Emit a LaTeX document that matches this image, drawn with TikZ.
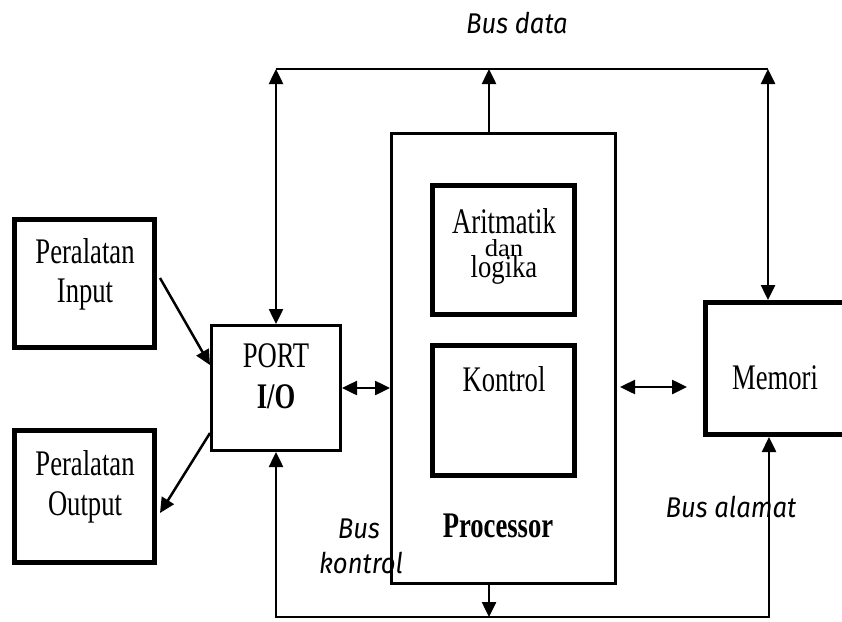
\documentclass[tikz,border=0pt]{standalone}
\usepackage{fontspec}
\usepackage{graphicx}
\setmainfont{Liberation Serif}
\newfontfamily\boxfont[FakeStretch=0.74]{Liberation Serif}
\newfontfamily\busfont[FakeStretch=0.9]{Fira Sans}
\usetikzlibrary{arrows.meta}
\begin{document}
\begin{tikzpicture}[x=1pt,y=-1pt,
  thickbox/.style={draw, line width=5pt, inner sep=0pt},
  thinbox/.style={draw, line width=3pt, inner sep=0pt},
  bus/.style={line width=2.5pt},
  tip/.style={-{Triangle[length=15pt,width=14pt]}},
  dbl/.style={{Triangle[length=15pt,width=14pt]}-{Triangle[length=15pt,width=14pt]}},
  serif/.style={font=\boxfont\fontsize{36}{36}\selectfont, anchor=base, inner sep=0pt},
  serifbold/.style={font=\boxfont\bfseries\fontsize{36}{36}\selectfont, anchor=base, inner sep=0pt},
  sans/.style={font=\busfont\itshape\fontsize{28.5}{28.5}\selectfont, anchor=base, inner sep=0pt}]
\useasboundingbox (0,0) rectangle (842,621);
\clip (0,0) rectangle (842,621);

% blocks
\node[thickbox, minimum width=140pt, minimum height=128pt] (inbox) at (84.5,283.5) {};
\node[thickbox, minimum width=140pt, minimum height=132pt] (outbox) at (84.5,496.5) {};
\node[thinbox, minimum width=129pt, minimum height=125pt] (port) at (276,388) {};
\node[thinbox, minimum width=224pt, minimum height=450pt] (proc) at (503.5,358.5) {};
\node[thickbox, minimum width=142pt, minimum height=129pt] (alu) at (503.5,250) {};
\node[thickbox, minimum width=142pt, minimum height=130pt] (ctrl) at (503.5,410.5) {};
\node[thickbox, minimum width=160pt, minimum height=132pt] (mem) at (785.5,368.5) {};

% block texts
\node[serif] (inA) at (85,263) {Peralatan};
\node[serif] (inB) at (85,302) {Input};
\node[serif] (outA) at (85,475) {Peralatan};
\node[serif] (outB) at (85,515) {Output};
\node[serif] (portA) at (276,367) {PORT};
\node[serifbold] (portB) at (276,408) {I/O};
\node[serif] (aluA) at (504,233) {Aritmatik};
\node[serif] (aluB) at (504,256) {\scalebox{1}[0.68]{dan}};
\node[serif] (aluC) at (504,277) {\scalebox{1}[0.88]{logika}};
\node[serif] (ctrlA) at (504,391) {Kontrol};
\node[serif] (memA) at (775,389) {Memori};
\node[serifbold] (procA) at (498,537) {Processor};

% bus labels
\node[sans] (lblData) at (517,33) {Bus data};
\node[sans] (lblAddr) at (731,517) {Bus alamat};
\node[sans] (lblCtlA) at (359,538) {Bus};
\node[sans] (lblCtlB) at (361,573) {kontrol};

% data bus
\coordinate (tl) at (276,69);
\coordinate (tr) at (768,69);
\coordinate (tp) at (489,69);
\draw[bus] (tl) -- (tr);
\draw[bus, dbl] (port.north) -- (tl);
\draw[bus, tip] (tp |- proc.north) -- (tp);
\draw[bus, dbl] (tr) -- (tr |- mem.north);

% address / control bus
\coordinate (bl) at (276,617);
\coordinate (br) at (769,617);
\coordinate (bp) at (489,617);
\draw[bus, dbl] (port.south) -- (bl) -- (br) -- (br |- mem.south);
\draw[bus, tip] (bp |- proc.south) -- (bp);

% direct links
\draw[bus, dbl] (port.east) -- (port.east -| proc.west);
\coordinate (pm1) at (620,387);
\coordinate (pm2) at (687,387);
\draw[bus, dbl] (pm1) -- (pm2);
\draw[bus, tip] ([xshift=3pt,yshift=5.5pt]inbox.east) -- ([yshift=23pt]port.west);
\draw[bus, tip] ([yshift=-45pt]port.west) -- ([xshift=3pt,yshift=-16.5pt]outbox.east);
\end{tikzpicture}
\end{document}
